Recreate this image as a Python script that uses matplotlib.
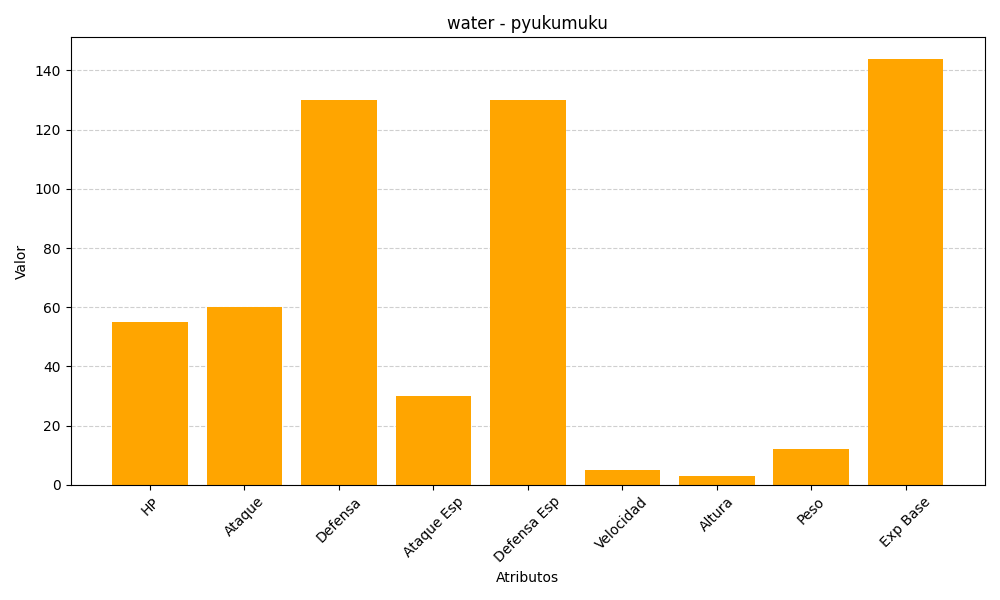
import matplotlib
matplotlib.use("Agg")
import matplotlib.pyplot as plt

# Pokemon stats
atributos = ["HP", "Ataque", "Defensa", "Ataque Esp", "Defensa Esp",
             "Velocidad", "Altura", "Peso", "Exp Base"]
valores = [55, 60, 130, 30, 130, 5, 3, 12, 144]

fig, ax = plt.subplots(figsize=(10, 6), dpi=100)
ax.bar(atributos, valores, color="orange")

ax.set_title("water - pyukumuku")
ax.set_xlabel("Atributos")
ax.set_ylabel("Valor")
plt.xticks(rotation=45)
ax.grid(axis="y", linestyle="--", alpha=0.6)
ax.set_axisbelow(True)

plt.tight_layout()
plt.savefig("out.png")
